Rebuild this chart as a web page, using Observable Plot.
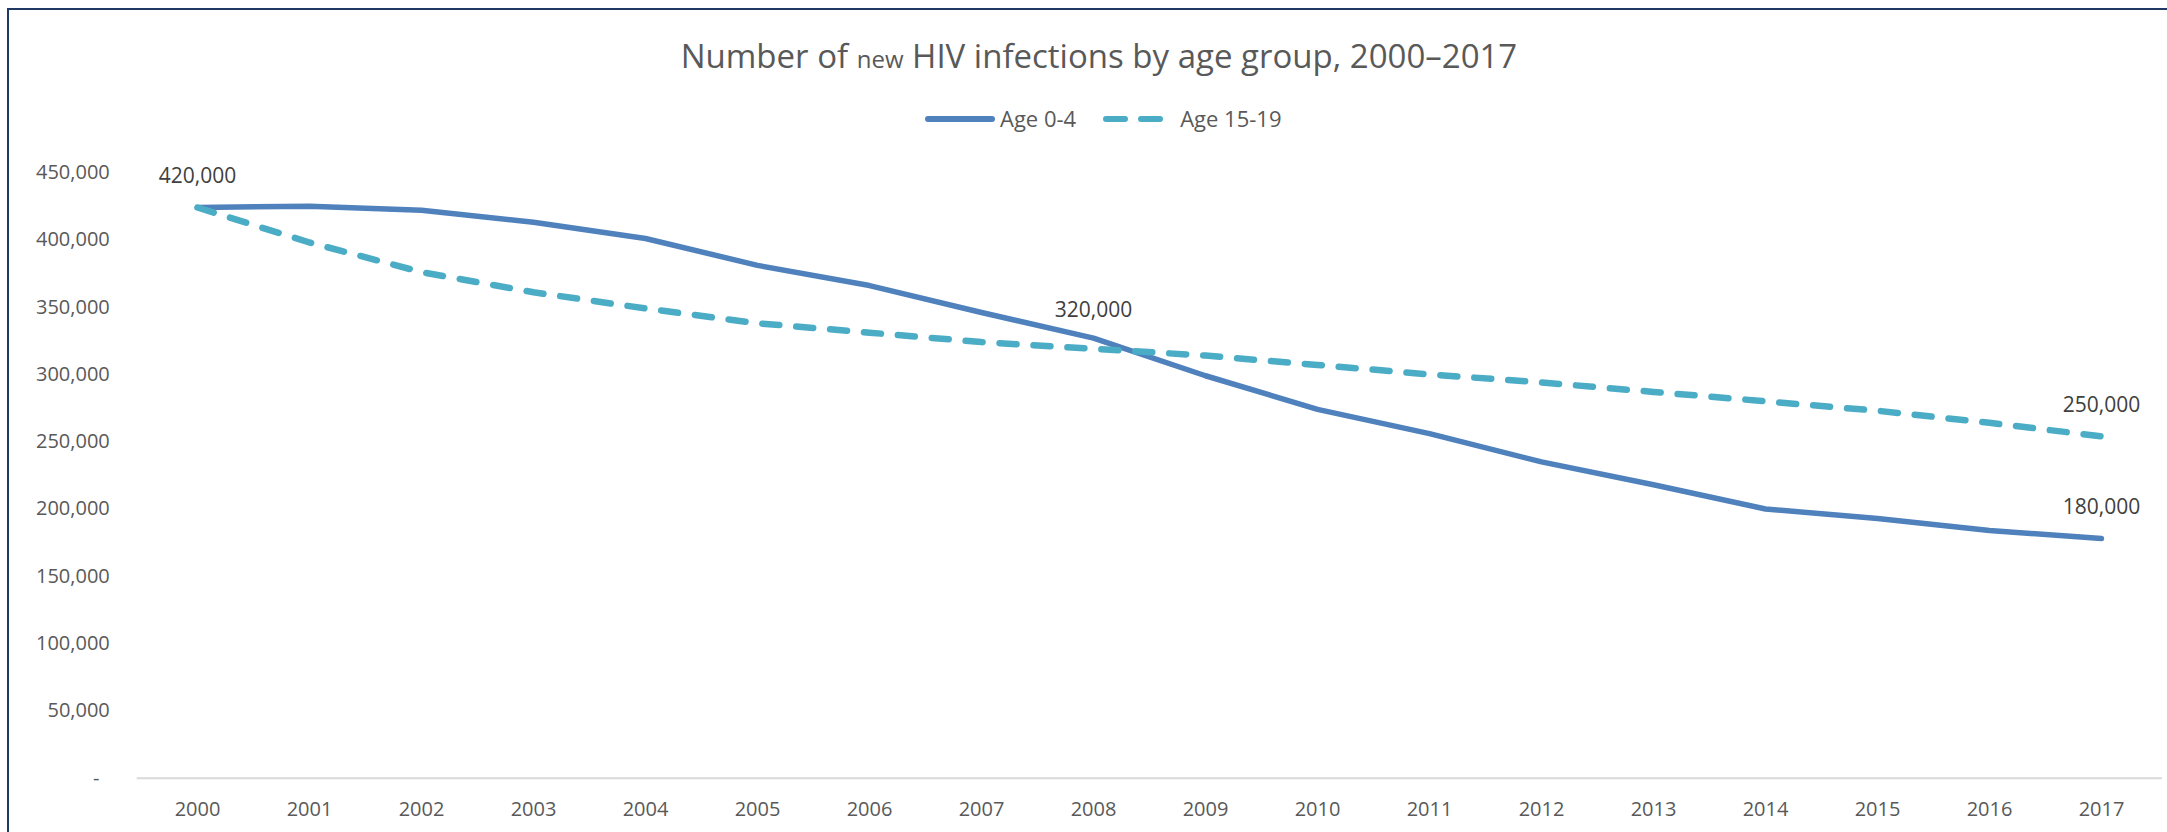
<!DOCTYPE html>
<html>
<head>
<meta charset="utf-8">
<script src="https://cdn.jsdelivr.net/npm/d3@7"></script>
<script src="https://cdn.jsdelivr.net/npm/@observablehq/plot@0.6"></script>
<style>
  html, body { margin: 0; padding: 0; background: #fff; width: 2167px; height: 832px; overflow: hidden; }
  #frame { position: absolute; left: 7px; top: 8px; width: 2200px; height: 900px;
           border-left: 2.5px solid #1F3864; border-top: 2.5px solid #1F3864; }
  #title { position: absolute; left: 0; top: 34px; width: 2198px; text-align: center;
           font-family: "Open Sans"; font-size: 33px; line-height: 1.362; color: #595959; white-space: nowrap; }
  #title .small { font-size: 24px; }
  #legend { position: absolute; left: 925px; top: 104px; display: flex; align-items: center;
            font-family: "Open Sans"; font-size: 22px; line-height: 1.362; color: #595959; white-space: nowrap; }
  #legend svg { display: block; }
  #chart { position: absolute; left: 0; top: 150px; }
</style>
</head>
<body>
<div id="frame"></div>
<div id="title">Number of <span class="small">new</span> HIV infections by age group, 2000–2017</div>
<div id="legend"></div>
<div id="chart"></div>
<script>
// ---- data ----
const years = [2000, 2001, 2002, 2003, 2004, 2005, 2006, 2007, 2008, 2009, 2010, 2011, 2012, 2013, 2014, 2015, 2016, 2017];
const age0to4 = [424000, 425000, 422000, 413000, 401000, 381000, 366000, 346000, 327000, 299000, 274000, 256000, 235000, 218000, 200000, 193000, 184000, 178000];
const age15to19 = [424000, 398000, 376000, 361000, 349000, 338000, 331000, 324000, 319000, 314000, 307000, 300000, 294000, 287000, 280000, 273000, 264000, 254000];
const seriesNames = ["Age 0-4", "Age 15-19"];
const seriesColors = ["#4F81BD", "#4BACC6"];
const yTicks = [0, 50000, 100000, 150000, 200000, 250000, 300000, 350000, 400000, 450000];
const labelYears = [2000, 2008, 2017, 2017];
const labelSeries = ["Age 0-4", "Age 15-19", "Age 15-19", "Age 0-4"];

// ---- tables ----
const seriesValues = {"Age 0-4": age0to4, "Age 15-19": age15to19};
const rows = seriesNames.flatMap(s => years.map((yr, i) => ({year: yr, series: s, value: seriesValues[s][i]})));
const fmt2 = d3.format(",.2r");
const labels = labelYears.map((yr, i) => {
  const s = labelSeries[i];
  const v = seriesValues[s][years.indexOf(yr)];
  return {year: yr, series: s, value: v, text: fmt2(v)};
});
const fmtComma = d3.format(",");

// ---- legend ----
const legend = document.getElementById("legend");
const ns = "http://www.w3.org/2000/svg";
seriesNames.forEach((name, i) => {
  const dashed = i === 1;
  const w = dashed ? 60 : 70;
  const svg = document.createElementNS(ns, "svg");
  svg.setAttribute("width", w); svg.setAttribute("height", 20);
  const ln = document.createElementNS(ns, "line");
  ln.setAttribute("x1", 3); ln.setAttribute("x2", w - 3);
  ln.setAttribute("y1", 10); ln.setAttribute("y2", 10);
  ln.setAttribute("stroke", seriesColors[i]);
  ln.setAttribute("stroke-width", 6);
  ln.setAttribute("stroke-linecap", "round");
  if (dashed) ln.setAttribute("stroke-dasharray", "19 16");
  svg.appendChild(ln);
  svg.style.marginLeft = i === 0 ? "0px" : "27px";
  legend.appendChild(svg);
  const sp = document.createElement("span");
  sp.textContent = name;
  sp.style.marginLeft = dashed ? "17px" : "5px";
  legend.appendChild(sp);
});

// ---- chart ----
const chart = Plot.plot({
  width: 2167,
  height: 682,
  marginLeft: 136.7,
  marginRight: 5,
  marginTop: 22,
  marginBottom: 54.3,
  style: {fontFamily: "Open Sans", fontSize: "20px", color: "#595959", background: "transparent", overflow: "visible"},
  x: {type: "point", domain: years, padding: 0.5, label: null},
  y: {domain: [0, 450000], label: null},
  marks: [
    Plot.axisY({ticks: yTicks, tickSize: 0, tickPadding: 27.4, tickFormat: d => d === 0 ? "-\u00a0\u00a0" : fmtComma(d), fill: "#595959"}),
    Plot.axisX({tickSize: 0, tickPadding: 24, tickFormat: d => String(d), fill: "#595959"}),
    Plot.ruleY([0], {stroke: "#D9D9D9", strokeWidth: 2}),
    Plot.line(rows.filter(d => d.series === seriesNames[0]), {x: "year", y: "value", stroke: seriesColors[0], strokeWidth: 5.5, strokeLinejoin: "round", strokeLinecap: "round"}),
    Plot.line(rows.filter(d => d.series === seriesNames[1]), {x: "year", y: "value", stroke: seriesColors[1], strokeWidth: 6.5, strokeDasharray: "17 17", strokeLinejoin: "round", strokeLinecap: "round"}),
    Plot.text(labels.filter(d => d.year !== 2008), {x: "year", y: "value", text: "text", dy: -31, fill: "#404040", fontSize: 21}),
    Plot.text(labels.filter(d => d.year === 2008), {x: "year", y: "value", text: "text", dy: -39, fill: "#404040", fontSize: 21})
  ]
});
document.getElementById("chart").appendChild(chart);
</script>
</body>
</html>
